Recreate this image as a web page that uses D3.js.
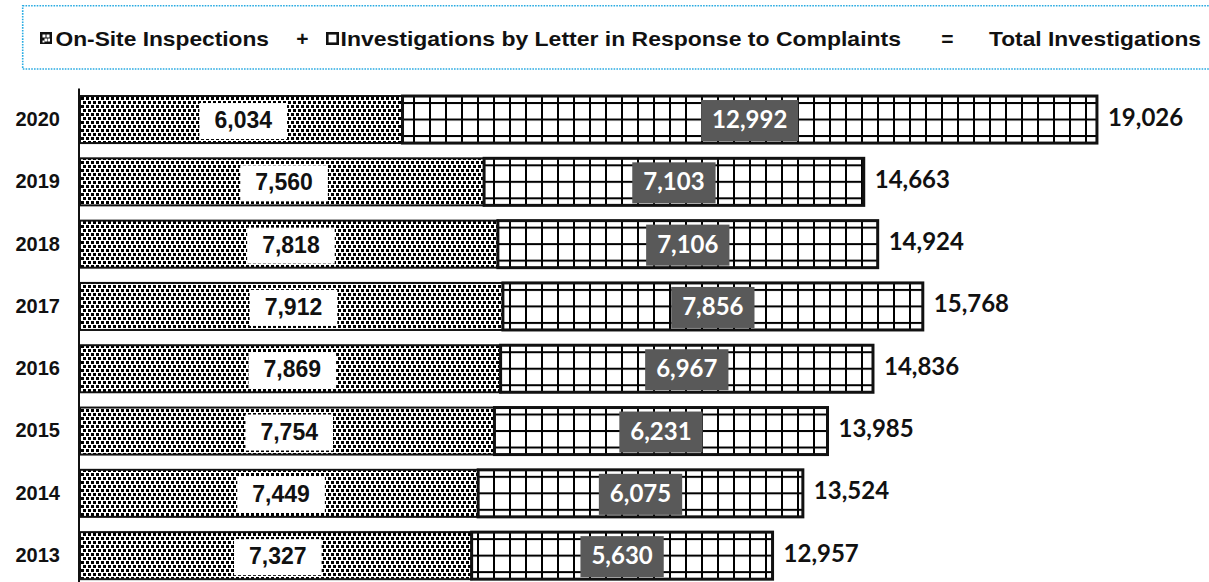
<!DOCTYPE html>
<html>
<head>
<meta charset="utf-8">
<script src="https://cdn.jsdelivr.net/npm/d3@7"></script>
<style>
  html, body { margin: 0; padding: 0; background: #fff; }
  svg { display: block; }
</style>
</head>
<body>
<svg id="chart" width="1209" height="582"></svg>
<script>
// ---- data ----
const years = ["2020", "2019", "2018", "2017", "2016", "2015", "2014", "2013"];
const onSite = [6034, 7560, 7818, 7912, 7869, 7754, 7449, 7327];
const byLetter = [12992, 7103, 7106, 7856, 6967, 6231, 6075, 5630];
const totals = [19026, 14663, 14924, 15768, 14836, 13985, 13524, 12957];
const legendLabels = ["On-Site Inspections", "Investigations by Letter in Response to Complaints", "Total Investigations"];
const legendOps = ["+", "="];

const fmt = d3.format(",");
const svg = d3.select("#chart");
const defs = svg.append("defs");

// scales
const x = d3.scaleLinear().domain([0, 20000]).range([80, 1149]);
const y = d3.scaleBand().domain(years).range([88.4, 586.8]).paddingInner(0.245).paddingOuter(0.1225);
const bw = y.bandwidth();

// dotted pattern (on-site)
const dots = defs.append("pattern").attr("id", "dots")
  .attr("patternUnits", "userSpaceOnUse").attr("x", 81).attr("y", 1)
  .attr("width", 10).attr("height", 8);
dots.append("rect").attr("width", 10).attr("height", 8).attr("fill", "#fff");
[[0, 0], [5, 0], [2, 4], [7, 4]].forEach(([px, py]) => {
  dots.append("rect").attr("x", px).attr("y", py).attr("width", 3).attr("height", 3).attr("fill", "#000");
});

// grid patterns (letter), one per row so the lines sit in the same place in each bar
years.forEach((yr, i) => {
  const p = defs.append("pattern").attr("id", "grid" + i)
    .attr("patternUnits", "userSpaceOnUse")
    .attr("x", 13).attr("y", y(yr) + 6)
    .attr("width", 16).attr("height", 16.5);
  p.append("rect").attr("width", 16).attr("height", 16.5).attr("fill", "#fff");
  p.append("rect").attr("x", 0).attr("y", 0).attr("width", 2).attr("height", 16.5).attr("fill", "#000");
  p.append("rect").attr("x", 0).attr("y", 0).attr("width", 16).attr("height", 2).attr("fill", "#000");
});

// legend box
svg.append("rect")
  .attr("x", 22.7).attr("y", 5.7).attr("width", 1260).attr("height", 63.3)
  .attr("fill", "none").attr("stroke", "#29ABE2").attr("stroke-width", 1.6)
  .attr("stroke-dasharray", "1.6,1.2");

// legend markers
const lg = svg.append("g");
lg.append("rect").attr("x", 40).attr("y", 32).attr("width", 12).attr("height", 12).attr("fill", "#111");
lg.append("rect").attr("x", 42.5).attr("y", 34.5).attr("width", 3).attr("height", 3).attr("fill", "#fff");
lg.append("rect").attr("x", 46.5).attr("y", 34.5).attr("width", 3).attr("height", 3).attr("fill", "#fff");
lg.append("rect").attr("x", 44.5).attr("y", 38.5).attr("width", 3).attr("height", 3).attr("fill", "#fff");
lg.append("rect").attr("x", 48).attr("y", 38.5).attr("width", 2).attr("height", 3).attr("fill", "#fff");
lg.append("rect").attr("x", 42.5).attr("y", 40.5).attr("width", 2).attr("height", 2).attr("fill", "#fff");
lg.append("rect").attr("x", 327.3).attr("y", 33.3).attr("width", 10.4).attr("height", 10.4)
  .attr("fill", "#fff").attr("stroke", "#111").attr("stroke-width", 2.6);

const legendPos = [[55.5, 213.5], [340.5, 560.5], [989, 212]];
legendLabels.forEach((t, i) => {
  lg.append("text")
    .attr("x", legendPos[i][0]).attr("y", 45.5)
    .attr("textLength", legendPos[i][1]).attr("lengthAdjust", "spacingAndGlyphs")
    .attr("font-family", "Liberation Sans, Arial, sans-serif")
    .attr("font-weight", "bold").attr("font-size", 21).attr("fill", "#111")
    .text(t);
});
const opPos = [302.5, 947.5];
legendOps.forEach((t, i) => {
  lg.append("text")
    .attr("x", opPos[i]).attr("y", 45.5).attr("text-anchor", "middle")
    .attr("font-family", "Liberation Sans, Arial, sans-serif")
    .attr("font-weight", "bold").attr("font-size", 21).attr("fill", "#111")
    .text(t);
});

// bars
const rows = years.map((yr, i) => ({ yr, i, a: onSite[i], b: byLetter[i], t: totals[i] }));
const g = svg.append("g");

g.selectAll("rect.onsite").data(rows).join("rect").attr("class", "onsite")
  .attr("x", x(0)).attr("y", d => y(d.yr))
  .attr("width", d => x(d.a) - x(0)).attr("height", bw)
  .attr("fill", "url(#dots)").attr("stroke", "#111").attr("stroke-width", 2);

g.selectAll("rect.letter").data(rows).join("rect").attr("class", "letter")
  .attr("x", d => x(d.a)).attr("y", d => y(d.yr))
  .attr("width", d => x(d.a + d.b) - x(d.a)).attr("height", bw)
  .attr("fill", d => "url(#grid" + d.i + ")").attr("stroke", "#111").attr("stroke-width", 3);

// on-site labels (white box)
rows.forEach(d => {
  const cx = (x(0) + x(d.a)) / 2 + 2;
  const cy = y(d.yr) + bw / 2;
  const box = g.append("rect").attr("fill", "#fff");
  const t = g.append("text")
    .attr("x", cx).attr("y", cy + 8.5).attr("text-anchor", "middle")
    .attr("font-family", "Liberation Sans, Arial, sans-serif")
    .attr("font-weight", "bold").attr("font-size", 23).attr("fill", "#111")
    .text(fmt(d.a));
  const w = t.node().getComputedTextLength();
  box.attr("x", cx - w / 2 - 15).attr("width", w + 30)
    .attr("y", y(d.yr) + 7).attr("height", 36);
});

// letter labels (grey box)
rows.forEach(d => {
  const cx = (x(d.a) + x(d.a + d.b)) / 2;
  const cy = y(d.yr) + bw / 2;
  const box = g.append("rect").attr("fill", "#595959");
  const t = g.append("text")
    .attr("x", cx).attr("y", cy + 8.5).attr("text-anchor", "middle")
    .attr("font-family", "Lato, sans-serif")
    .attr("font-weight", "bold").attr("font-size", 24).attr("fill", "#fff")
    .text(fmt(d.b));
  const w = t.node().getComputedTextLength();
  box.attr("x", cx - w / 2 - 11).attr("width", w + 22)
    .attr("y", y(d.yr) + 4).attr("height", bw - 6);
});

// totals
g.selectAll("text.total").data(rows).join("text").attr("class", "total")
  .attr("x", d => x(d.t) + 11).attr("y", d => y(d.yr) + bw / 2 + 6)
  .attr("font-family", "Lato, sans-serif")
  .attr("font-weight", "bold").attr("font-size", 24).attr("fill", "#111")
  .text(d => fmt(d.t));

// y axis
const ax = svg.append("g").attr("transform", "translate(79,0)")
  .call(d3.axisLeft(y).tickSize(0).tickPadding(19));
ax.select(".domain").attr("stroke", "#111").attr("stroke-width", 2)
  .attr("d", "M0,88.4V600");
ax.selectAll("text")
  .attr("font-family", "Liberation Sans, Arial, sans-serif")
  .attr("font-weight", "bold").attr("font-size", 20).attr("fill", "#111");
</script>
</body>
</html>
